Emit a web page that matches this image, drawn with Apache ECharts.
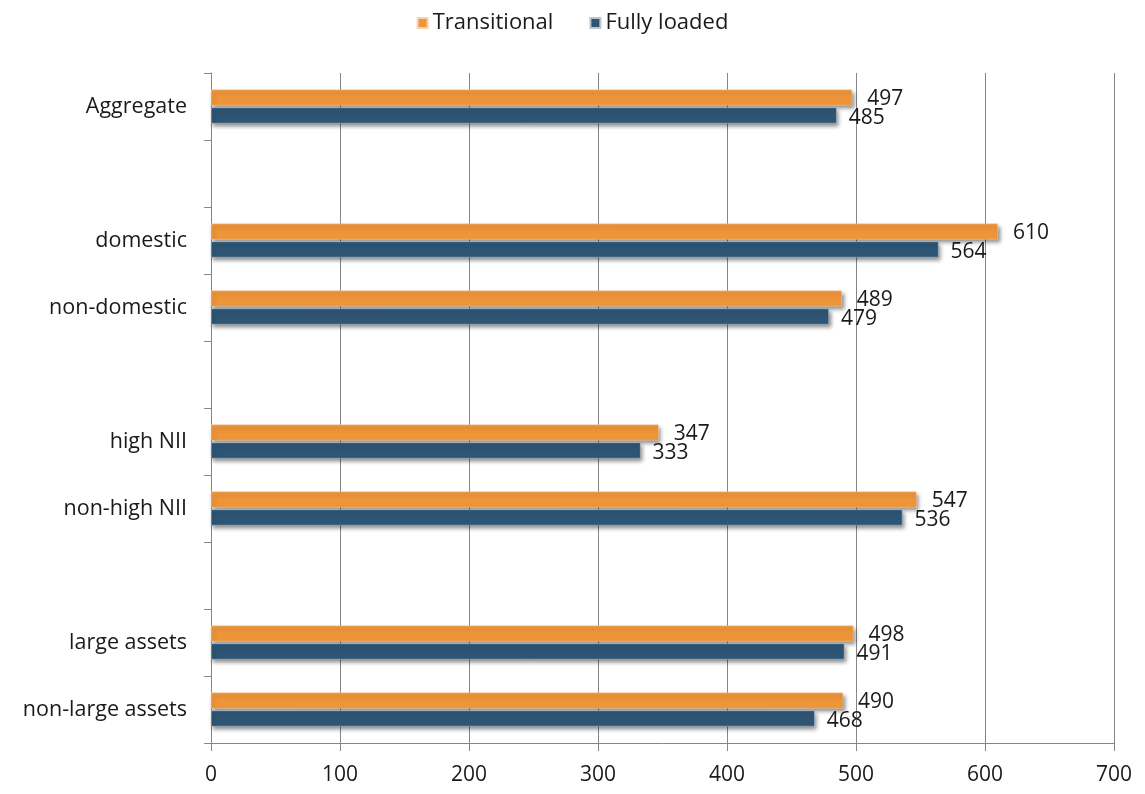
<!DOCTYPE html>
<html>
<head>
<meta charset="utf-8">
<script src="https://cdn.jsdelivr.net/npm/echarts@6/dist/echarts.min.js"></script>
<style>html,body{margin:0;padding:0;background:#fff;}#c{width:1145px;height:794px;}</style>
</head>
<body>
<div id="c"></div>
<script>
const categories = ['Aggregate', '', 'domestic', 'non-domestic', '', 'high NII', 'non-high NII', '', 'large assets', 'non-large assets'];
const transitional = [497, null, 610, 489, null, 347, 547, null, 498, 490];
const fullyLoaded = [485, null, 564, 479, null, 333, 536, null, 491, 468];
const xTicks = [0, 100, 200, 300, 400, 500, 600, 700];

const font = 'Open Sans';
const txt = '#1a1a1a';
const chart = echarts.init(document.getElementById('c'));
const shadow = {shadowColor: 'rgba(0,0,0,0.45)', shadowBlur: 4, shadowOffsetX: 2, shadowOffsetY: 3};
chart.setOption({
  animation: false,
  textStyle: {fontFamily: font},
  legend: {
    top: 7, left: 'center', icon: 'rect', itemWidth: 10, itemHeight: 10, itemGap: 36,
    textStyle: {fontSize: 22, color: txt, fontFamily: font},
    data: ['Transitional', 'Fully loaded']
  },
  grid: {left: 211, right: 31, top: 73, bottom: 51, containLabel: false},
  xAxis: {
    type: 'value', min: xTicks[0], max: xTicks[xTicks.length - 1], interval: 100,
    axisLine: {show: true, lineStyle: {color: '#868686'}},
    axisTick: {show: true, length: 8, lineStyle: {color: '#868686'}},
    splitLine: {show: true, lineStyle: {color: '#868686', width: 1}},
    axisLabel: {fontSize: 21, color: txt, margin: 22, fontFamily: font}
  },
  yAxis: {
    type: 'category', inverse: true, data: categories,
    axisLine: {show: true, lineStyle: {color: '#868686'}},
    axisTick: {show: true, length: 7, lineStyle: {color: '#868686'}},
    axisLabel: {fontSize: 21.5, color: txt, margin: 24, fontFamily: font}
  },
  series: [
    {
      name: 'Transitional', type: 'bar', data: transitional, barWidth: 16, barGap: '12%',
      itemStyle: Object.assign({color: '#EE953A', borderColor: '#f6d2ae', borderWidth: 0.5}, shadow),
      label: {show: true, position: 'right', distance: 15, offset: [0, 1], fontSize: 21, color: txt, fontFamily: font}
    },
    {
      name: 'Fully loaded', type: 'bar', data: fullyLoaded, barWidth: 16,
      itemStyle: Object.assign({color: '#2E5574', borderColor: '#b9c6d2', borderWidth: 0.5}, shadow),
      label: {show: true, position: 'right', distance: 12, offset: [0, 3], fontSize: 21, color: txt, fontFamily: font}
    }
  ]
});
</script>
</body>
</html>
